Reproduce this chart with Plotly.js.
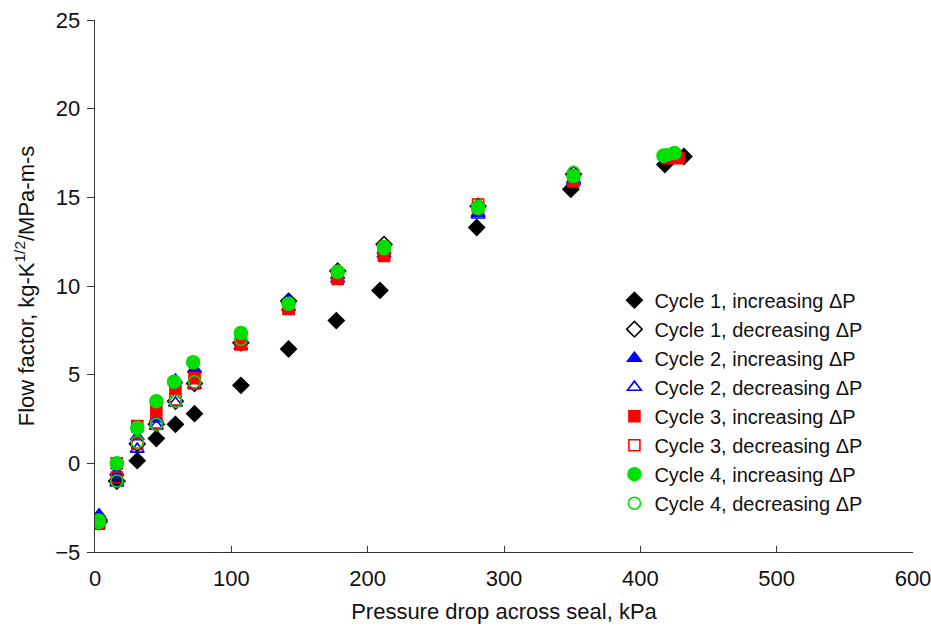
<!DOCTYPE html>
<html><head><meta charset="utf-8">
<script src="https://cdn.plot.ly/plotly-3.0.1.min.js"></script>
<style>body{margin:0;background:#fff}#chart{width:931px;height:630px}</style>
</head><body><div id="chart"></div>
<script>
// Pressure drop (kPa) and flow factor values per series
const names = ["Cycle 1, increasing ΔP","Cycle 1, decreasing ΔP","Cycle 2, increasing ΔP","Cycle 2, decreasing ΔP","Cycle 3, increasing ΔP","Cycle 3, decreasing ΔP","Cycle 4, increasing ΔP","Cycle 4, decreasing ΔP"];

const c1incX = [3, 16, 31, 45, 59, 73, 107, 142, 177, 209, 280, 349, 418, 432];
const c1incY = [-3.3, -1.0, 0.15, 1.4, 2.2, 2.8, 4.4, 6.45, 8.05, 9.75, 13.3, 15.45, 16.85, 17.3];

const c1decX = [3, 16, 31, 45, 59, 73, 107, 142, 178, 212, 281, 351, 420];
const c1decY = [-3.2, -1.0, 1.1, 2.2, 3.5, 4.5, 6.8, 9.15, 10.85, 12.35, 14.5, 16.3, 17.2];

const c2incX = [3, 16, 31, 45, 59, 73, 107, 142, 178, 212, 281, 351, 420];
const c2incY = [-3.0, -0.5, 1.5, 2.5, 4.7, 5.3, 6.9, 9.2, 10.6, 12.0, 14.1, 16.0, 17.2];

const c2decX = [3, 16, 31, 45, 59, 73, 107, 142, 178, 212, 281, 351, 420];
const c2decY = [-2.9, -1.1, 0.8, 2.1, 3.4, 4.4, 6.6, 8.8, 10.4, 11.8, 14.0, 15.9, 17.1];

const c3incX = [3, 16, 31, 45, 59, 73, 107, 142, 178, 212, 281, 351, 420, 428];
const c3incY = [-3.4, 0.0, 2.1, 3.0, 4.2, 4.8, 6.8, 8.7, 10.4, 11.7, 14.4, 15.9, 17.2, 17.2];

const c3decX = [3, 16, 31, 45, 59, 73, 107, 142, 178, 212, 281, 351, 420];
const c3decY = [-3.3, -0.8, 1.1, 2.3, 3.6, 4.5, 6.7, 8.8, 10.5, 11.8, 14.6, 16.0, 17.3];

const c4incX = [3, 16, 31, 45, 58, 72, 107, 142, 178, 212, 281, 351, 417, 425];
const c4incY = [-3.3, 0.0, 2.0, 3.5, 4.6, 5.7, 7.35, 9.0, 10.8, 12.2, 14.4, 16.2, 17.35, 17.5];

const c4decX = [3, 16, 31, 45, 59, 73, 107, 142, 178, 212, 281, 351, 420];
const c4decY = [-3.2, -1.0, 1.2, 2.2, 3.5, 4.6, 7.0, 9.0, 10.8, 12.1, 14.5, 16.4, 17.4];

const xTicks = [0, 100, 200, 300, 400, 500, 600];
const yTicks = [-5, 0, 5, 10, 15, 20, 25];
const yTickText = ["\u22125", "0", "5", "10", "15", "20", "25"];

const styles = [
  {symbol:"diamond", color:"#000000", size:12},
  {symbol:"diamond-open", color:"#000000", size:12},
  {symbol:"triangle-up", color:"#0000ff", size:12},
  {symbol:"triangle-up-open", color:"#0000ff", size:12},
  {symbol:"square", color:"#ff0000", size:11},
  {symbol:"square-open", color:"#ff0000", size:11},
  {symbol:"circle", color:"#00e000", size:13},
  {symbol:"circle-open", color:"#00e000", size:12}
];
const xs = [c1incX,c1decX,c2incX,c2decX,c3incX,c3decX,c4incX,c4decX];
const ys = [c1incY,c1decY,c2incY,c2decY,c3incY,c3decY,c4incY,c4decY];
const traces = [];
for (let i = 0; i < 8; i++) {
  traces.push({
    type:"scatter", mode:"markers", name:names[i], x:xs[i], y:ys[i],
    marker:{symbol:styles[i].symbol, color:styles[i].color, size:styles[i].size,
            line:{color:styles[i].color, width:1.6}}
  });
}
const font = "Liberation Sans, Arial, sans-serif";
const layout = {
  width:931, height:630,
  margin:{l:95, r:18, t:20, b:78},
  paper_bgcolor:"#fff", plot_bgcolor:"#fff",
  showlegend:true,
  legend:{x:0.635, y:0.51, xanchor:"left", yanchor:"top", bgcolor:"rgba(0,0,0,0)",
          font:{family:font, size:20, color:"#111"}, itemwidth:30, tracegroupgap:0},
  xaxis:{range:[0,600], tickvals:xTicks, ticktext:xTicks.map(String), ticks:"inside", ticklen:6,
         tickcolor:"#333", showline:true, linecolor:"#333", linewidth:1.3, showgrid:false, zeroline:false,
         ticklabelstandoff:6, automargin:false, ticklabeloverflow:"allow",
         tickfont:{family:font, size:22, color:"#111"},
         title:{text:"Pressure drop across seal, kPa", font:{family:font, size:22, color:"#111"}, standoff:14}},
  yaxis:{range:[-5,25], tickvals:yTicks, ticktext:yTickText, ticks:"outside", ticklen:7,
         tickcolor:"#333", showline:true, linecolor:"#333", linewidth:1.3, showgrid:false, zeroline:false,
         ticklabelstandoff:2, automargin:false, ticklabeloverflow:"allow",
         tickfont:{family:font, size:22, color:"#111"},
         title:{text:"Flow factor, kg-K<sup>1/2</sup>/MPa-m-s", font:{family:font, size:22, color:"#111"}, standoff:14}}
};
Plotly.newPlot("chart", traces, layout, {displayModeBar:false, staticPlot:true});
</script>
</body></html>
